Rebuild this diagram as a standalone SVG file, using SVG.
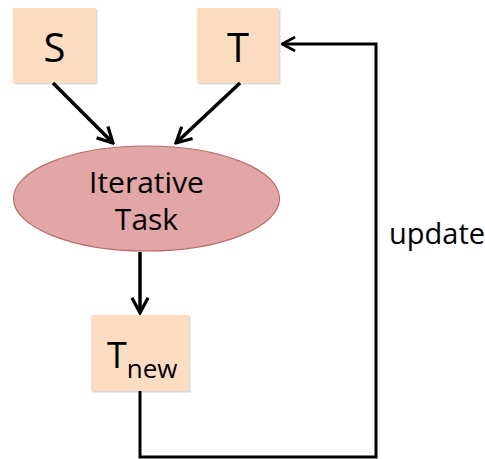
<svg xmlns="http://www.w3.org/2000/svg" width="485" height="459" viewBox="0 0 485 459">
<style>
.box{fill:#FCDDC2}
.shadow{fill:#000;opacity:0.15}
.lbl{font-family:"Open Sans","Liberation Sans",sans-serif;fill:#000}
.edge{stroke:#000;stroke-width:3.5;fill:none}
.loop{stroke:#000;stroke-width:3;fill:none}
</style>
<defs>
<marker id="ah" viewBox="0 0 12 12" refX="11" refY="6" markerWidth="5.5" markerHeight="5.5" markerUnits="strokeWidth" orient="auto">
<path d="M1.5,1 L11,6 L1.5,11" fill="none" stroke="#000" stroke-width="2"/>
</marker>
</defs>
<g id="S">
<rect class="shadow" x="14.5" y="9.5" width="83" height="75"/>
<rect class="box" x="13" y="8" width="83" height="75"/>
<text class="lbl" x="54.5" y="62" font-size="40" text-anchor="middle">S</text>
</g>
<g id="T">
<rect class="shadow" x="198.5" y="9.5" width="82" height="75"/>
<rect class="box" x="197" y="8" width="82" height="75"/>
<text class="lbl" x="238" y="62" font-size="40" text-anchor="middle">T</text>
</g>
<g id="task">
<ellipse cx="146.5" cy="198.5" rx="133" ry="52.5" fill="#E2A6A6" stroke="#B96B6B" stroke-width="1.2"/>
<text class="lbl" x="146.5" y="193" font-size="30" text-anchor="middle">Iterative</text>
<text class="lbl" x="146.5" y="230" font-size="30" text-anchor="middle">Task</text>
</g>
<g id="Tnew">
<rect class="shadow" x="92.5" y="316.5" width="98" height="76"/>
<rect class="box" x="91" y="315" width="98" height="76"/>
<text class="lbl" x="107" y="368" font-size="36">T<tspan font-size="26" dy="10">new</tspan></text>
</g>
<g id="update-label">
<text class="lbl" x="389" y="244" font-size="29">update</text>
</g>
<g id="connectors">
<path class="edge" d="M53,83 L113,143" marker-end="url(#ah)"/>
<path class="edge" d="M240,83 L176,143" marker-end="url(#ah)"/>
<path class="edge" d="M140,252 L140,313" marker-end="url(#ah)"/>
<path class="loop" d="M140,391 L140,457 L376,457 L376,44 L282,44" marker-end="url(#ah)"/>
</g>
</svg>
